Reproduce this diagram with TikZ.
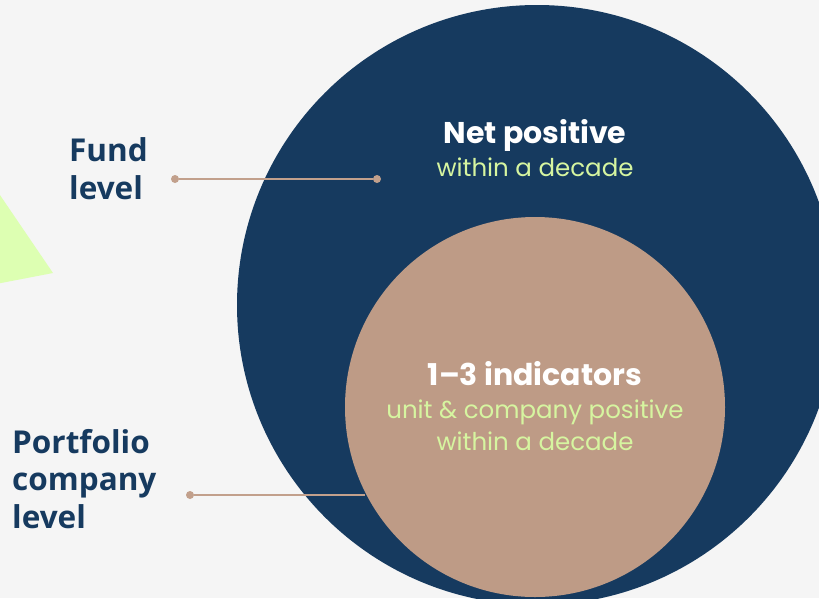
\documentclass[tikz,border=0pt]{standalone}
\usepackage{fontspec}
\setmainfont{Poppins}
\newfontfamily\labelfont{Open Sans}
\usetikzlibrary{positioning}

\definecolor{navyB}{HTML}{163A5F}
\definecolor{sandB}{HTML}{BE9B86}
\definecolor{limeB}{HTML}{DDFFB2}
\definecolor{limetext}{HTML}{D6F5A0}
\definecolor{paperB}{HTML}{F5F5F5}
\definecolor{lineB}{HTML}{C2A08C}

\begin{document}
\begin{tikzpicture}[x=1pt,y=-1pt,
    every node/.style={inner sep=0pt}]
  \tikzstyle{ring}=[circle,minimum size=10pt]
  \tikzstyle{title}=[font=\bfseries\fontsize{30}{32}\selectfont,text=white,anchor=base]
  \tikzstyle{sub}=[font=\fontsize{24.5}{32}\selectfont,text=limetext,align=center,anchor=base]
  \tikzstyle{levelB}=[font=\labelfont\bfseries\fontsize{31.5}{37.5}\selectfont,text=navyB,align=left,anchor=base west]
  \tikzstyle{dotB}=[circle,fill=lineB,minimum size=8pt]
  \tikzstyle{link}=[lineB,line width=1.6pt]

  \clip (0,0) rectangle (819,598);
  \fill[paperB] (0,0) rectangle (819,598);
  \fill[limeB] (-30,151) -- (53,273) -- (-30,289) -- cycle;

  % Circles
  \node[ring,fill=navyB,minimum size=600pt] (fund) at (537,305) {};
  \node[ring,fill=sandB,minimum size=380pt] (portfolio) at (535,407) {};

  % Texts (base is the last line)
  \node[title] (nettitle) at (535,143) {Net positive};
  \node[sub] (netsub) [below=33.5pt of nettitle.base,anchor=base] {within a decade};
  \node[title] (indtitle) at (535,385) {1–3 indicators};
  \node[sub] (indsub) [below=65pt of indtitle.base,anchor=base] {unit \& company positive\\within a decade};

  % Labels
  \node[levelB] (fundlabel) at (69,199) {Fund\\level};
  \node[levelB] (portlabel) at (12,528) {Portfolio\\company\\level};

  % Links
  \node[dotB] (fdot1) at (175,179) {};
  \node[dotB] (fdot2) at (377,179) {};
  \node[dotB] (pdot) at (190,495) {};
  \coordinate (pend) at (365,495);
  \draw[link] (fdot1) -- (fdot2);
  \draw[link] (pdot) -- (pend);
\end{tikzpicture}
\end{document}
